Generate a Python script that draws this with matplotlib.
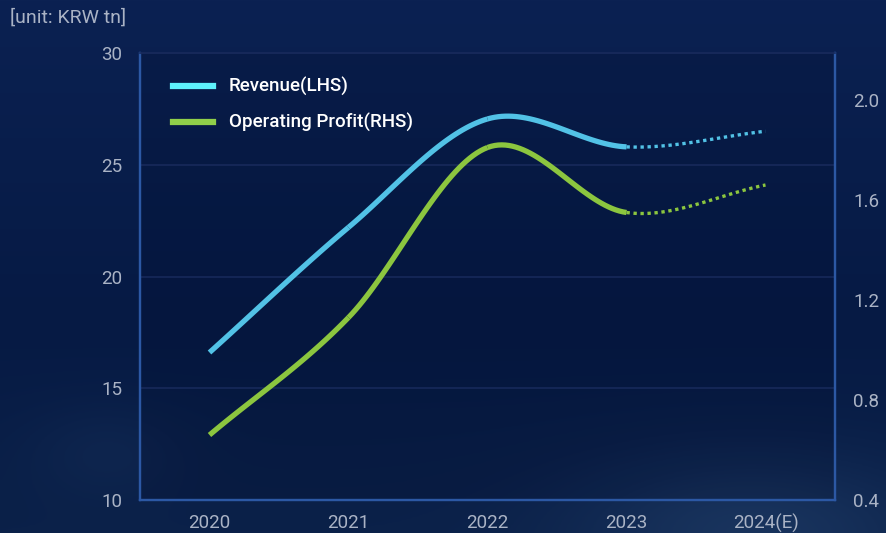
import numpy as np
import matplotlib.pyplot as plt
from matplotlib.lines import Line2D
from matplotlib.colors import to_rgb

plt.rcParams['font.family'] = ['Roboto', 'DejaVu Sans']

# data (KRW tn)
years = ['2020', '2021', '2022', '2023', '2024(E)']
revenue = [16.6, 22.2, 27.05, 25.8, 26.5]
op_profit = [0.66, 1.13, 1.81, 1.55, 1.66]


def smooth(y, n=40):
    # catmull-rom through the yearly points
    y = np.asarray(y, dtype=float)
    x = np.arange(len(y), dtype=float)
    m = np.gradient(y, x)
    xs, ys = [], []
    for i in range(len(y) - 1):
        t = np.linspace(0, 1, n)
        h00 = 2 * t**3 - 3 * t**2 + 1
        h10 = t**3 - 2 * t**2 + t
        h01 = -2 * t**3 + 3 * t**2
        h11 = t**3 - t**2
        xs.append(x[i] + t)
        ys.append(h00 * y[i] + h10 * m[i] + h01 * y[i + 1] + h11 * m[i + 1])
    return xs, ys


W, H = 886, 533
fig = plt.figure(figsize=(W / 100, H / 100), dpi=100)

# background: dark navy with a soft lighter haze at the bottom
bg = fig.add_axes([0, 0, 1, 1], zorder=-10)
yy, xx = np.mgrid[0:1:200j, 0:1:300j]
top, mid, low = [np.array(to_rgb(c)) for c in ('#0b2152', '#061a44', '#0b2149')]
v = yy[..., None]
img = np.where(v < 0.6, top + (mid - top) * (v / 0.6), mid + (low - mid) * ((v - 0.6) / 0.4))
haze = np.exp(-((xx - 0.85) ** 2 / 0.04 + (yy - 1.0) ** 2 / 0.02))
haze += 0.3 * np.exp(-((xx - 0.12) ** 2 / 0.008 + (yy - 0.85) ** 2 / 0.008))
img = img + haze[..., None] * (np.array(to_rgb('#1c3862')) - img) * 0.8
bg.imshow(np.clip(img, 0, 1), aspect='auto', extent=[0, 1, 0, 1], origin='upper')
bg.axis('off')

ax = fig.add_axes([140 / W, 1 - 500 / H, 695 / W, 447 / H])
ax.set_facecolor((0.0, 0.02, 0.12, 0.15))
ax.set_xlim(-0.5, 4.5)
ax.set_ylim(10, 30)
ax.set_yticks([10, 15, 20, 25, 30])
ax.set_xticks(range(len(years)))
ax.set_xticklabels(years)
ax.grid(axis='y', color='#17295a', lw=1.2)
ax.set_axisbelow(True)

ax2 = ax.twinx()
ax2.set_ylim(0.4, 0.4 + 447 / 250)
ax2.set_yticks([0.4, 0.8, 1.2, 1.6, 2.0])
ax2.set_yticklabels(['0.4', '0.8', '1.2', '1.6', '2.0'])

for a in (ax, ax2):
    for s in ('left', 'right', 'bottom'):
        a.spines[s].set_color('#2c58a4')
        a.spines[s].set_linewidth(1.6)
    a.spines['top'].set_color('#17295a')
    a.spines['top'].set_linewidth(1.2)
    a.tick_params(length=0, labelcolor='#aab3c5', labelsize=13.5)
ax.tick_params(axis='y', pad=13)
ax.tick_params(axis='x', pad=10)
ax2.tick_params(axis='y', pad=13)

xs, ys = smooth(revenue)
xg, yg = smooth(op_profit)
for i in range(len(xs)):
    dotted = i == len(xs) - 1
    kw = dict(lw=2.4, linestyle=(0, (1, 1.1)), dash_capstyle='butt') if dotted else dict(lw=3.8, solid_capstyle='butt')
    ax.plot(xs[i], ys[i], color='#52c2e6', **kw)
    ax2.plot(xg[i], yg[i], color='#8cc63f', **kw)

# legend
fig.add_artist(Line2D([173 / W, 213 / W], [1 - 86 / H] * 2, color='#5ef2fb', lw=4.5))
fig.add_artist(Line2D([173 / W, 213 / W], [1 - 122 / H] * 2, color='#90cf4a', lw=4.5))
fig.text(229 / W, 1 - 86 / H, 'Revenue(LHS)', color='white', fontsize=13.5, fontweight='medium',
         va='center', ha='left')
fig.text(229 / W, 1 - 122 / H, 'Operating Profit(RHS)', color='white', fontsize=13.5, fontweight='medium',
         va='center', ha='left')

fig.text(10 / W, 1 - 18 / H, '[unit: KRW tn]', color='#aab3c5', fontsize=14, va='center', ha='left')

fig.savefig('out.png', dpi=100)
